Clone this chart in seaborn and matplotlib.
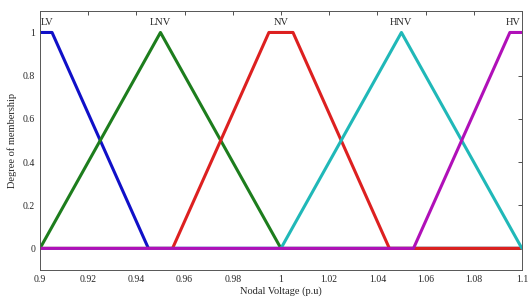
import numpy as np
import pandas as pd
import matplotlib
matplotlib.use('Agg')
import matplotlib.pyplot as plt
import seaborn as sns

sns.set_theme(style='white')
plt.rcParams['font.family'] = ['Liberation Serif', 'DejaVu Serif']
plt.rcParams['font.size'] = 7

# membership function breakpoints (x, mu) over 0.9 - 1.1 p.u.
sets = ['LV', 'LNV', 'NV', 'HNV', 'HV']
lv_x = [0.9, 0.905, 0.945, 1.1]
lv_y = [1, 1, 0, 0]
lnv_x = [0.9, 0.95, 1.0, 1.1]
lnv_y = [0, 1, 0, 0]
nv_x = [0.9, 0.955, 0.995, 1.005, 1.045, 1.1]
nv_y = [0, 0, 1, 1, 0, 0]
hnv_x = [0.9, 1.0, 1.05, 1.1]
hnv_y = [0, 0, 1, 0]
hv_x = [0.9, 1.055, 1.095, 1.1]
hv_y = [0, 0, 1, 1]
label_x = [0.902, 0.95, 1.0, 1.05, 1.098]
colors = ['#1010c8', '#1d7d1d', '#dd2020', '#20b8b8', '#b010b8']

xs = [lv_x, lnv_x, nv_x, hnv_x, hv_x]
ys = [lv_y, lnv_y, nv_y, hnv_y, hv_y]
rows = []
for name, x, y in zip(sets, xs, ys):
    for i, (a, b) in enumerate(zip(x, y)):
        rows.append({'set': name, 'order': i, 'voltage': a, 'mu': b})
df = pd.DataFrame(rows)

fig = plt.figure(figsize=(5.29, 3.02), dpi=100)
ax = fig.add_axes([0.0756, 0.106, 0.911, 0.858])

for name, c in zip(sets, colors):
    sub = df[df['set'] == name]
    sns.lineplot(data=sub, x='voltage', y='mu', sort=False, color=c,
                 linewidth=2.2, ax=ax, legend=False)

for name, lx in zip(sets, label_x):
    ha = 'left' if lx < 0.91 else ('right' if lx > 1.09 else 'center')
    if ha == 'left':
        lx = 0.9005
    elif ha == 'right':
        lx = 1.0995
    ax.text(lx, 1.025, name, ha=ha, va='bottom', fontsize=7.5)

ax.set_xlim(0.9, 1.1)
ax.set_ylim(-0.1, 1.1)
xt = np.round(np.arange(0.9, 1.1001, 0.02), 2)
ax.set_xticks(xt)
ax.set_xticklabels([f'{v:g}' for v in xt])
yt = np.round(np.arange(0, 1.001, 0.2), 1)
ax.set_yticks(yt)
ax.set_yticklabels([f'{v:g}' for v in yt])
ax.tick_params(direction='in', top=True, right=True, length=3, width=0.6,
               labelsize=7, color='#333333')
for s in ax.spines.values():
    s.set_color('#555555')
    s.set_linewidth(0.7)
ax.set_xlabel('Nodal Voltage (p.u)', fontsize=7.5, labelpad=2)
ax.set_ylabel('Degree of membership', fontsize=7.5, labelpad=4)

fig.savefig('out.png', dpi=100)
